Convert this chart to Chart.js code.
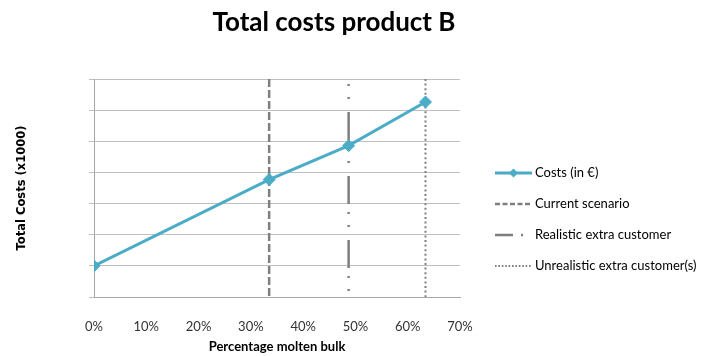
<!DOCTYPE html>
<html>
<head>
<meta charset="utf-8">
<script src="https://cdn.jsdelivr.net/npm/chart.js@4/dist/chart.umd.min.js"></script>
<style>
  html, body { margin: 0; padding: 0; background: #ffffff; }
  #wrap { width: 712px; height: 356px; }
</style>
</head>
<body>
<div id="wrap"><canvas id="c" width="712" height="356"></canvas></div>
<script>
// Share of molten bulk (%) and total costs (x1000) of product B
const sharePct = [0, 33.5, 48.7, 63.4];
const totalCosts = [1.0, 3.77, 4.86, 6.26];

// Scenario markers on the share axis (%)
const scenarioNames = ['Current scenario', 'Realistic extra customer', 'Unrealistic extra customer(s)'];
const scenarioShare = [33.5, 48.7, 63.4];

const costLabel = 'Costs (in \u20ac)';
const titleText = 'Total costs product B';
const xTitle = 'Percentage molten bulk';
const yTitle = 'Total Costs (x1000)';

const Y_MIN = 0, Y_MAX = 7;
const TEAL = '#4bacc6';
const GREY = '#7f7f7f';

const scenarioStyles = [
  { dash: [8, 3], offset: 0, width: 2.5, legendDash: [5, 2.5] },
  { dash: [28, 8, 2, 11, 2, 13], offset: 31, width: 2.5, legendDash: [18, 8, 2, 40] },
  { dash: [2, 2.6], offset: 0, width: 2, legendDash: [1.6, 1.8] }
];

const datasets = [];
scenarioShare.forEach((s, i) => {
  const st = scenarioStyles[i];
  datasets.push({
    label: scenarioNames[i],
    data: [{ x: s, y: Y_MAX }, { x: s, y: Y_MIN }],
    borderColor: GREY,
    borderWidth: st.width,
    borderDash: st.dash,
    borderDashOffset: st.offset,
    borderCapStyle: 'butt',
    pointRadius: 0,
    legendDash: st.legendDash,
    order: 2
  });
});
datasets.push({
  label: costLabel,
  data: sharePct.map((x, i) => ({ x: x, y: totalCosts[i] })),
  borderColor: TEAL,
  backgroundColor: TEAL,
  borderWidth: 3,
  pointStyle: 'rectRot',
  pointRadius: 6,
  pointBorderWidth: 1,
  pointBackgroundColor: TEAL,
  pointBorderColor: TEAL,
  tension: 0,
  order: 1
});

// Title and legend drawn on the canvas at fixed spots
const overlay = {
  id: 'overlay',
  afterDraw(chart) {
    const ctx = chart.ctx;
    ctx.save();
    ctx.fillStyle = '#000';
    ctx.font = 'bold 26px Lato';
    ctx.textAlign = 'center';
    ctx.textBaseline = 'alphabetic';
    ctx.fillText(titleText, 334, 31);

    // legend
    const order = [3, 0, 1, 2];
    const ys = [173, 204, 235, 266];
    const x0 = 495, x1 = 532;
    ctx.font = '13px Lato';
    ctx.textAlign = 'left';
    ctx.textBaseline = 'middle';
    order.forEach((di, k) => {
      const ds = chart.data.datasets[di];
      const y = ys[k];
      ctx.beginPath();
      ctx.strokeStyle = ds.borderColor;
      ctx.lineWidth = di === 3 ? 3 : ds.borderWidth;
      ctx.lineCap = 'butt';
      ctx.setLineDash(ds.legendDash || []);
      ctx.moveTo(x0, y);
      ctx.lineTo(x1, y);
      ctx.stroke();
      ctx.setLineDash([]);
      if (di === 3) {
        const cx = (x0 + x1) / 2, r = 4.5;
        ctx.beginPath();
        ctx.fillStyle = TEAL;
        ctx.moveTo(cx, y - r); ctx.lineTo(cx + r, y); ctx.lineTo(cx, y + r); ctx.lineTo(cx - r, y);
        ctx.closePath();
        ctx.fill();
      }
      ctx.fillStyle = '#000';
      ctx.fillText(ds.label, 535, y);
    });
    ctx.restore();
  }
};

new Chart(document.getElementById('c'), {
  type: 'line',
  data: { datasets: datasets },
  options: {
    responsive: false,
    animation: false,
    devicePixelRatio: 1,
    layout: { padding: { top: 79, right: 252, bottom: 0, left: 0 } },
    plugins: {
      legend: { display: false },
      title: { display: false },
      tooltip: { enabled: false }
    },
    scales: {
      x: {
        type: 'linear',
        min: 0, max: 70,
        ticks: {
          stepSize: 10,
          padding: 22,
          color: '#333',
          font: { family: 'Lato', size: 13 },
          callback: v => v + '%'
        },
        grid: { display: false, drawTicks: false },
        border: { display: true, color: '#a6a6a6', width: 1 },
        title: {
          display: true,
          text: xTitle,
          color: '#000',
          font: { family: 'Lato', size: 13, weight: 'bold' },
          padding: { top: 0, bottom: 1 }
        },
        afterFit: s => { s.height = 59; }
      },
      y: {
        type: 'linear',
        min: Y_MIN, max: Y_MAX,
        ticks: { stepSize: 1, callback: () => '' },
        grid: { color: '#bfbfbf', lineWidth: 1, drawTicks: true, tickLength: 5, tickColor: '#bfbfbf' },
        border: { display: true, color: '#a6a6a6', width: 1 },
        title: {
          display: true,
          text: yTitle,
          color: '#000',
          font: { family: 'DejaVu Sans', size: 11.5, weight: 'bold' },
          padding: { top: 15, bottom: 0 }
        },
        afterFit: s => { s.width = 94; }
      }
    }
  },
  plugins: [overlay]
});
</script>
</body>
</html>
